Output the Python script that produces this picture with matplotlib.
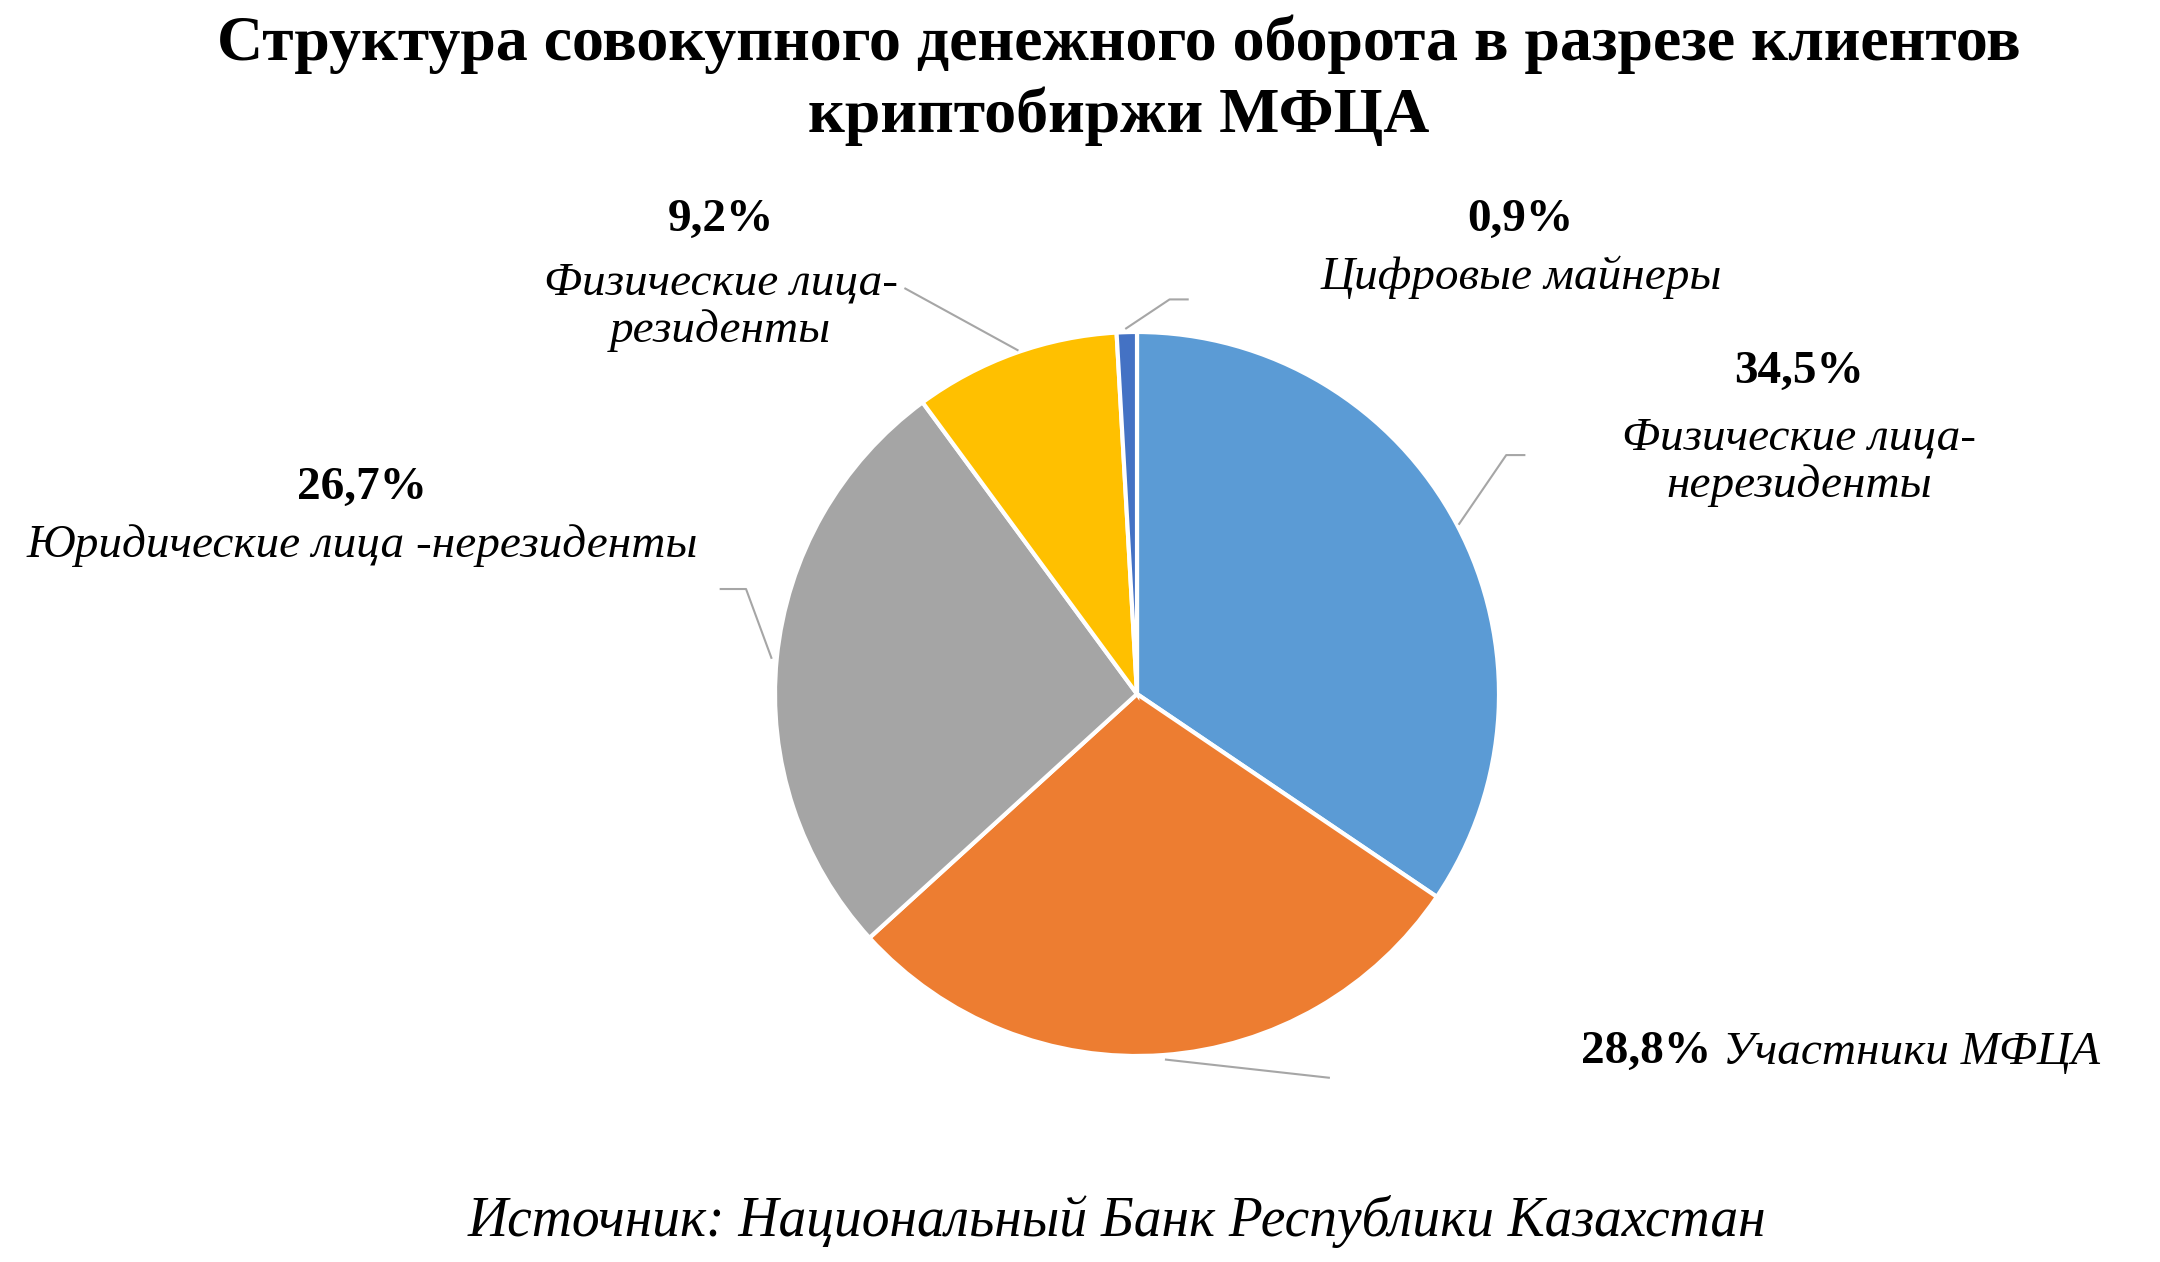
import matplotlib
matplotlib.use("Agg")
import matplotlib.pyplot as plt

values = [34.5, 28.8, 26.7, 9.2, 0.9]
pcts = ["34,5%", "28,8%", "26,7%", "9,2%", "0,9%"]
names = ["Физические лица-\nнерезиденты", "Участники МФЦА", "Юридические лица -нерезиденты",
         "Физические лица-\nрезиденты", "Цифровые майнеры"]
colors = ["#5B9BD5", "#ED7D31", "#A5A5A5", "#FFC000", "#4472C4"]

plt.rcParams['font.family'] = ['Liberation Serif', 'DejaVu Serif']
fig = plt.figure(figsize=(21.6, 12.62), dpi=100)
R = 362; k = 3
cx, cy = 1137/2160, 1 - 694/1262
w = 2*R*k/2160; h = 2*R*k/1262
ax = fig.add_axes([cx - w/2, cy - h/2, w, h])
ax.pie(values, colors=colors, startangle=90, counterclock=False, radius=1,
       wedgeprops=dict(edgecolor='white', linewidth=3))
ax.set_xlim(-k, k); ax.set_ylim(-k, k); ax.set_aspect('equal'); ax.axis('off')

lc = '#A6A6A6'
leaders = [[(0.89, 0.47), (1.02, 0.66), (1.07, 0.66)],
           [(0.08, -1.01), (0.53, -1.06)],
           [(-1.01, 0.10), (-1.08, 0.29), (-1.15, 0.29)],
           [(-0.33, 0.95), (-0.64, 1.12)],
           [(-0.03, 1.01), (0.09, 1.09), (0.14, 1.09)]]
for pts in leaders:
    xs, ys = zip(*pts)
    ax.plot(xs, ys, color=lc, lw=1.5)

fs = 34
ls = 1.15
ax.text(1.83, 0.89, pcts[0], ha='center', va='center', fontsize=fs, fontweight='bold')
ax.text(1.83, 0.64, names[0], ha='center', va='center', fontsize=fs, style='italic', linespacing=ls)
ax.text(1.62, -0.99, pcts[1] + " ", ha='right', va='center', fontsize=fs, fontweight='bold')
ax.text(1.62, -0.99, names[1], ha='left', va='center', fontsize=fs, style='italic')
ax.text(-2.14, 0.57, pcts[2], ha='center', va='center', fontsize=fs, fontweight='bold')
ax.text(-2.14, 0.41, names[2], ha='center', va='center', fontsize=fs, style='italic')
ax.text(-1.15, 1.31, pcts[3], ha='center', va='center', fontsize=fs, fontweight='bold')
ax.text(-1.15, 1.07, names[3], ha='center', va='center', fontsize=fs, style='italic', linespacing=ls)
ax.text(1.06, 1.31, pcts[4], ha='center', va='center', fontsize=fs, fontweight='bold')
ax.text(1.06, 1.15, names[4], ha='center', va='center', fontsize=fs, style='italic')

fig.text(0.518, 0.965, "Структура совокупного денежного оборота в разрезе клиентов",
         ha='center', va='center', fontsize=46, fontweight='bold')
fig.text(0.518, 0.908, "криптобиржи МФЦА", ha='center', va='center', fontsize=46, fontweight='bold')
fig.text(0.517, 0.032, "Источник: Национальный Банк Республики Казахстан",
         ha='center', va='center', fontsize=40, style='italic')
fig.savefig("out.png", dpi=100, facecolor='white')
